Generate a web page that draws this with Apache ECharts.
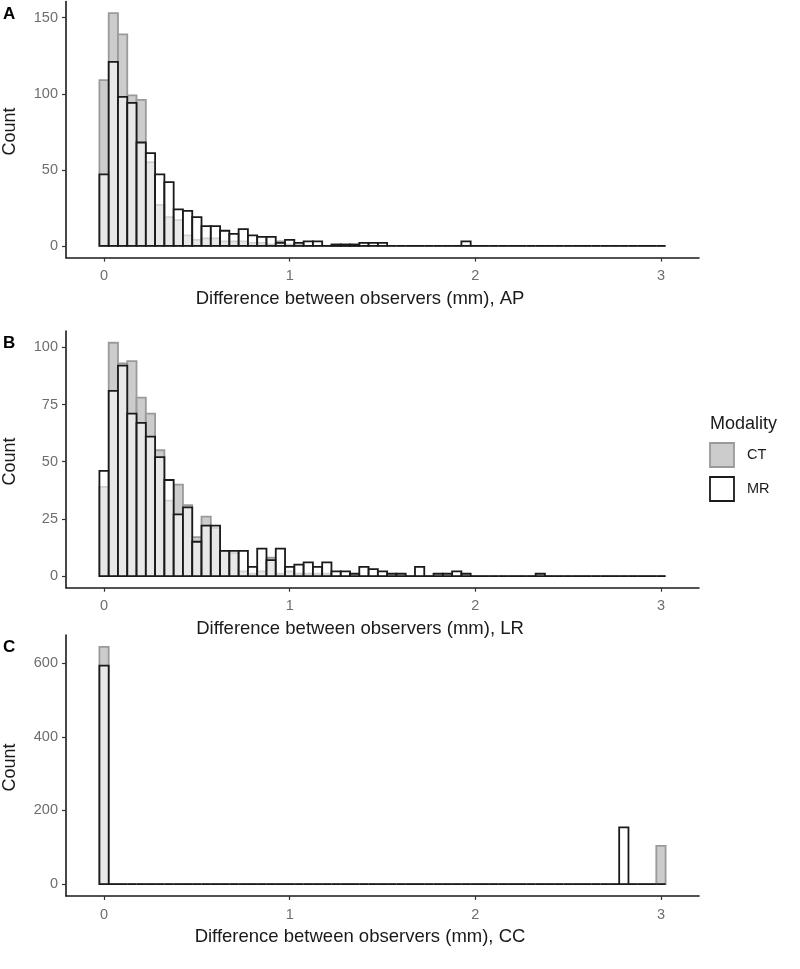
<!DOCTYPE html>
<html><head><meta charset="utf-8">
<script src="https://cdn.jsdelivr.net/npm/echarts@6/dist/echarts.min.js"></script>
<style>html,body{margin:0;padding:0;background:#fff}#c{width:800px;height:969px}</style>
</head><body><div id="c"></div>
<script>
// bin centres (mm), bin width 0.05
const binWidth = 0.05;
const bins = [0,0.05,0.1,0.15,0.2,0.25,0.3,0.35,0.4,0.45,0.5,0.55,0.6,0.65,0.7,0.75,0.8,0.85,0.9,0.95,
  1,1.05,1.1,1.15,1.2,1.25,1.3,1.35,1.4,1.45,1.5,1.55,1.6,1.65,1.7,1.75,1.8,1.85,1.9,1.95,
  2,2.05,2.1,2.15,2.2,2.25,2.3,2.35,2.4,2.45,2.5,2.55,2.6,2.65,2.7,2.75,2.8,2.85,2.9,2.95,3];

// Panel A (AP)
const apCT = [109,153,139,99,96,55,27,19,17,7,4,5,5,3,3,3,2,2,1,3,1,1,0,0,0,0,0,0,0,0,
  0,0,0,0,0,0,0,0,0,0,0,0,0,0,0,0,0,0,0,0,0,0,0,0,0,0,0,0,0,0,0];
const apMR = [47,121,98,94,68,61,47,42,24,23,19,13,13,10,8,11,7,6,6,2,4,2,3,3,0,1,1,1,2,2,
  2,0,0,0,0,0,0,0,0,3,0,0,0,0,0,0,0,0,0,0,0,0,0,0,0,0,0,0,0,0,0];
// Panel B (LR)
const lrCT = [39,102,93,94,78,71,55,33,40,31,17,26,21,11,10,2,1,2,8,1,2,1,1,1,1,0,0,0,0,0,
  0,0,0,0,0,0,0,0,0,0,0,0,0,0,0,0,0,0,0,0,0,0,0,0,0,0,0,0,0,0,0];
const lrMR = [46,81,92,71,67,61,52,42,27,30,15,22,22,11,11,11,4,12,7,12,4,5,6,4,6,2,2,1,4,3,
  2,1,1,0,4,0,1,1,2,1,0,0,0,0,0,0,0,1,0,0,0,0,0,0,0,0,0,0,0,0,0];
// Panel C (CC)
const ccCT = [644,0,0,0,0,0,0,0,0,0,0,0,0,0,0,0,0,0,0,0,0,0,0,0,0,0,0,0,0,0,
  0,0,0,0,0,0,0,0,0,0,0,0,0,0,0,0,0,0,0,0,0,0,0,0,0,0,0,0,0,0,104];
const ccMR = [593,0,0,0,0,0,0,0,0,0,0,0,0,0,0,0,0,0,0,0,0,0,0,0,0,0,0,0,0,0,
  0,0,0,0,0,0,0,0,0,0,0,0,0,0,0,0,0,0,0,0,0,0,0,0,0,0,154,0,0,0,0];

const xTicks = [0,1,2,3];
const yTicksA = [0,50,100,150];
const yTicksB = [0,25,50,75,100];
const yTicksC = [0,200,400,600];
const xTitles = ['Difference between observers (mm), AP','Difference between observers (mm), LR','Difference between observers (mm), CC'];
const panelLetters = ['A','B','C'];
const modalities = ['CT','MR'];

const FONT = 'Liberation Sans, Arial, sans-serif';
const grids = [
  {left:66, width:633, top:1.5, height:256.1},
  {left:66, width:633, top:331.1, height:256.6},
  {left:66, width:633, top:635, height:261}
];
const yRanges = [[-7.65,160.65],[-5.1,107.1],[-32.2,676.2]];
const yTicks = [yTicksA,yTicksB,yTicksC];
const styles = {
  CT:{fill:'#cccccc', stroke:'#9a9a9a', lineWidth:1.8},
  MR:{fill:'rgba(255,255,255,0.55)', stroke:'#1a1a1a', lineWidth:1.8}
};
const panels = [[apCT,apMR],[lrCT,lrMR],[ccCT,ccMR]];

function makeRender(st){
  return function(params, api){
    const c = api.value(0), v = api.value(1);
    const p0 = api.coord([c - binWidth/2, 0]);
    const p1 = api.coord([c + binWidth/2, v]);
    return {type:'rect', shape:{x:p0[0], y:p1[1], width:p1[0]-p0[0], height:p0[1]-p1[1]},
      style:{fill:st.fill, stroke:st.stroke, lineWidth:st.lineWidth}};
  };
}

const xAxis = [], yAxis = [], series = [];
grids.forEach((g,i)=>{
  xAxis.push({type:'value', gridIndex:i, min:-0.205, max:3.205,
    axisLine:{show:true, onZero:false, lineStyle:{color:'#1a1a1a', width:1.6}},
    axisTick:{show:true, length:4, customValues:xTicks, lineStyle:{color:'#333', width:1.2}},
    axisLabel:{customValues:xTicks, color:'#6e6e6e', fontSize:14.5, fontFamily:FONT, margin:11},
    splitLine:{show:false}});
  yAxis.push({type:'value', gridIndex:i, min:yRanges[i][0], max:yRanges[i][1],
    axisLine:{show:true, onZero:false, lineStyle:{color:'#1a1a1a', width:1.6}},
    axisTick:{show:true, length:4, customValues:yTicks[i], lineStyle:{color:'#333', width:1.2}},
    axisLabel:{customValues:yTicks[i], color:'#6e6e6e', fontSize:14.5, fontFamily:FONT, margin:8},
    splitLine:{show:false}});
  const [ct, mr] = panels[i];
  [['CT',ct],['MR',mr]].forEach(([name,arr])=>{
    series.push({type:'custom', name:name, xAxisIndex:i, yAxisIndex:i,
      renderItem:makeRender(styles[name]), clip:false,
      data:bins.map((b,k)=>[b, arr[k]]), silent:true, animation:false});
  });
});

const titleY = [299, 629, 937];
const letterY = [14.5, 343, 647.5];
const graphic = [];
grids.forEach((g,i)=>{
  graphic.push({type:'text', x:360, y:titleY[i], style:{text:xTitles[i], font:'18.5px '+FONT, fill:'#1a1a1a', align:'center', verticalAlign:'middle'}});
  graphic.push({type:'text', x:3, y:letterY[i], style:{text:panelLetters[i], font:'bold 17px '+FONT, fill:'#000', align:'left', verticalAlign:'middle'}});
  graphic.push({type:'text', x:10, y:g.top + g.height/2 + 2, rotation:Math.PI/2, style:{text:'Count', font:'18px '+FONT, fill:'#1a1a1a', align:'center', verticalAlign:'middle'}});
});
// legend
graphic.push({type:'text', x:710, y:424, style:{text:'Modality', font:'18px '+FONT, fill:'#1a1a1a', align:'left', verticalAlign:'middle'}});
modalities.forEach((m,j)=>{
  const st = styles[m];
  graphic.push({type:'rect', shape:{x:710, y:443 + j*34, width:24, height:24}, style:{fill: m==='CT'?'#cccccc':'#ffffff', stroke:st.stroke, lineWidth:1.8}});
  graphic.push({type:'text', x:747, y:455 + j*34, style:{text:m, font:'14.5px '+FONT, fill:'#1a1a1a', align:'left', verticalAlign:'middle'}});
});

const chart = echarts.init(document.getElementById('c'), null, {renderer:'canvas'});
chart.setOption({animation:false, backgroundColor:'#fff', grid:grids, xAxis, yAxis, series, graphic});
</script></body></html>
